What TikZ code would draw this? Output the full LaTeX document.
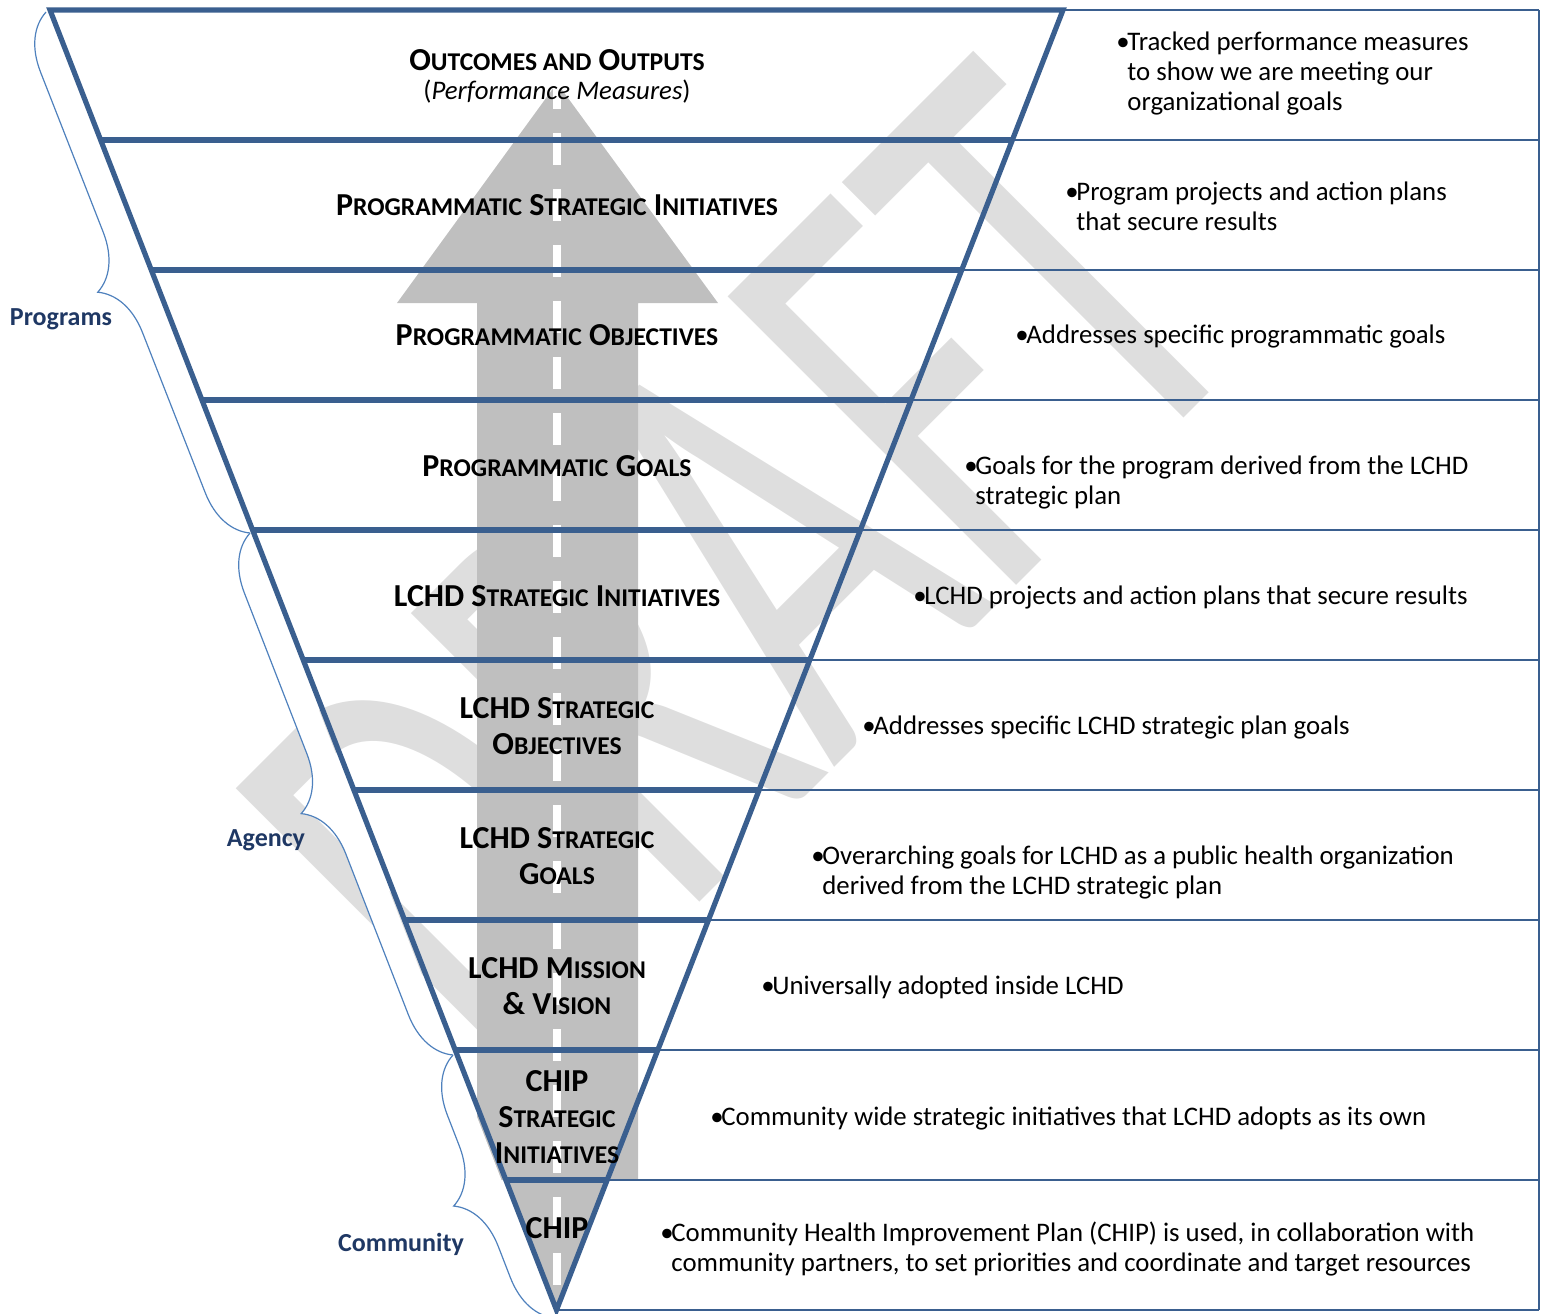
\documentclass[tikz,border=0pt]{standalone}
\usepackage{fontspec}
\setmainfont{Carlito}
\usetikzlibrary{calc,decorations.pathreplacing}
\definecolor{edgeblue}{RGB}{58,95,143}
\definecolor{bracecol}{RGB}{79,129,189}
\definecolor{navy}{RGB}{31,56,100}
\definecolor{arrowgray}{RGB}{191,191,191}
\definecolor{wmgray}{RGB}{222,222,222}
\newcommand\smc[1]{{\fontsize{12.8pt}{18pt}\selectfont #1}}
\begin{document}
\begin{tikzpicture}[x=0.5pt,y=-0.5pt,
  band/.style={font=\fontsize{16pt}{18pt}\selectfont\bfseries, align=center, inner sep=0pt},
  desc/.style={font=\fontsize{13.4pt}{15pt}\selectfont, align=left, anchor=west, inner sep=0pt},
  grp/.style={font=\fontsize{13pt}{15pt}\selectfont\bfseries, text=navy, inner sep=0pt},
  thickline/.style={draw=edgeblue, line width=2.6pt},
  tabline/.style={draw=edgeblue, line width=1.3pt},
  bracedeco/.style={decoration={brace, amplitude=27pt}},
  bracepath/.style={draw=bracecol, line width=0.6pt, decorate, bracedeco},
  watermark/.style={rotate=45, anchor=base west, inner sep=0pt, text=wmgray, font=\fontsize{318pt}{318pt}\selectfont},
]
\useasboundingbox (0,0) rectangle (1545,1313);
\coordinate (TL) at (50,10);
\coordinate (TR) at (1063,10);
\coordinate (AP) at (556.5,1310);
\foreach \i in {0,...,10}{
  \coordinate (L\i) at ($(TL)!\i/10!(AP)$);
  \coordinate (R\i) at ($(TR)!\i/10!(AP)$);
  \coordinate (E\i) at ($(1539,10)!\i/10!(1539,1310)$);
}
% watermark
\node[watermark] (wm) at (505,1097) {\scalebox{0.63}[1]{DRAFT}};
% arrow
\fill[arrowgray] (557,83) -- (718,303) -- (638,303) -- (638,1180) -- (477,1180) -- (477,303) -- (397,303) -- cycle;
\fill[arrowgray] (L9) -- (R9) -- (AP) -- cycle;
\coordinate (dashA) at (557,77);
\coordinate (dashB) at (557,1300);
\draw[white, line width=4pt, dash pattern=on 16pt off 12pt] (dashA) -- (dashB);
% braces
\coordinate (bA) at (46,12);
\coordinate (bB) at (250,533);
\coordinate (bC) at (453,1055);
\coordinate (bD) at (555,1318);
\path[fill=white] decorate[bracedeco] {(bB) -- (bA)} -- cycle;
\path[fill=white] decorate[bracedeco] {(bC) -- (bB)} -- cycle;
\path[fill=white] decorate[bracedeco] {(bD) -- (bC)} -- cycle;
\draw[bracepath] (bB) -- (bA);
\draw[bracepath] (bC) -- (bB);
\draw[bracepath] (bD) -- (bC);
\node[grp] (programs) at (61,319) {Programs};
\node[grp] (agency) at (266,840) {Agency};
\node[grp] (community) at (401,1244) {Community};
% table
\foreach \i in {0,...,10} \draw[tabline] (L\i) -- (E\i);
\draw[tabline] (E0) -- (E10);
\foreach \i in {1,...,9} \draw[thickline] (L\i) -- (R\i);
\draw[thickline, line join=miter] (L0) -- (R0) -- (AP) -- cycle;
% band labels
\node[band, anchor=base] (b1) at (557,70) {O\smc{UTCOMES AND} O\smc{UTPUTS}};
\node[font=\fontsize{13.4pt}{15pt}\selectfont, anchor=base, inner sep=0pt] (b1s) at (557,99) {(\textit{Performance Measures})};
\node[band] (b2) at (557,208) {\strut P\smc{ROGRAMMATIC} S\smc{TRATEGIC} I\smc{NITIATIVES}};
\node[band] (b3) at (557,338) {\strut P\smc{ROGRAMMATIC} O\smc{BJECTIVES}};
\node[band] (b4) at (557,469) {\strut P\smc{ROGRAMMATIC} G\smc{OALS}};
\node[band] (b5) at (557,599) {\strut LCHD S\smc{TRATEGIC} I\smc{NITIATIVES}};
\node[band] (b6) at (557,729) {\strut LCHD S\smc{TRATEGIC}\\\strut O\smc{BJECTIVES}};
\node[band] (b7) at (557,859.5) {\strut LCHD S\smc{TRATEGIC}\\\strut G\smc{OALS}};
\node[band] (b8) at (557,989.5) {\strut LCHD M\smc{ISSION}\\\strut \& V\smc{ISION}};
\node[band] (b9) at (557,1120) {\strut CHIP\\\strut S\smc{TRATEGIC}\\\strut I\smc{NITIATIVES}};
\node[band] (b10) at (557,1231) {\strut CHIP};
% descriptions
\newcommand\bul{\makebox[5.5pt][l]{•}}
\newcommand\ind{\hspace*{5.5pt}}
\node[desc] (d1) at (1116,74) {\strut\bul Tracked performance measures\\\strut\ind to show we are meeting our\\\strut\ind organizational goals};
\node[desc] (d2) at (1065,209) {\strut\bul Program projects and action plans\\\strut\ind that secure results};
\node[desc] (d3) at (1015,337) {\strut\bul Addresses specific programmatic goals};
\node[desc] (d4) at (964,483) {\strut\bul Goals for the program derived from the LCHD\\\strut\ind strategic plan};
\node[desc] (d5) at (913,598) {\strut\bul LCHD projects and action plans that secure results};
\node[desc] (d6) at (862,728) {\strut\bul Addresses specific LCHD strategic plan goals};
\node[desc] (d7) at (811,873) {\strut\bul Overarching goals for LCHD as a public health organization\\\strut\ind derived from the LCHD strategic plan};
\node[desc] (d8) at (761,988) {\strut\bul Universally adopted inside LCHD};
\node[desc] (d9) at (710,1119) {\strut\bul Community wide strategic initiatives that LCHD adopts as its own};
\node[desc] (d10) at (660,1250) {\strut\bul Community Health Improvement Plan (CHIP) is used, in collaboration with\\\strut\ind community partners, to set priorities and coordinate and target resources};
\end{tikzpicture}
\end{document}
